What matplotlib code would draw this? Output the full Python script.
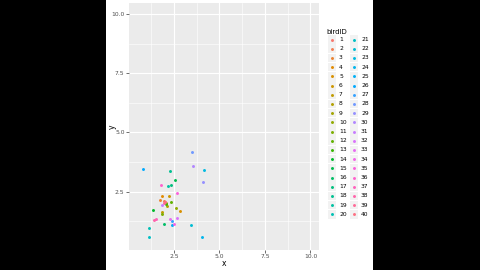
import numpy as np
import matplotlib
matplotlib.use('Agg')
import matplotlib.pyplot as plt
from matplotlib.patches import Rectangle

# %% data (one fix per bird)
bird_id = list(range(1, 41))
pos_x = [2.01, 1.98, 1.73, 1.83, 2.83, 2.24, 1.83, 2.10, 2.05, 2.63,
         1.86, 2.35, 2.04, 1.37, 2.54, 1.97, 2.33, 2.28, 2.20, 1.12,
         1.13, 3.45, 4.14, 4.05, 2.41, 0.82, 2.37, 3.48, 4.10, 3.56,
         1.86, 2.65, 2.28, 2.50, 2.65, 1.79, 1.52, 1.43, 1.97, 2.00]
pos_y = [2.05, 2.08, 2.16, 2.30, 1.68, 2.30, 1.63, 1.89, 2.00, 1.80,
         1.55, 2.05, 1.98, 1.73, 3.00, 1.11, 2.77, 3.36, 2.72, 0.95,
         0.57, 1.07, 3.42, 0.57, 1.09, 3.45, 1.24, 4.18, 2.91, 3.59,
         1.94, 1.40, 1.33, 1.12, 2.45, 2.78, 1.33, 1.28, 2.02, 2.05]
ticks = [2.5, 5.0, 7.5, 10.0]
tick_labels = ["2.5", "5.0", "7.5", "10.0"]
minor_ticks = [1.25, 3.75, 6.25, 8.75]


# %% ggplot hue palette: hcl(h, c=100, l=65)
def hcl_to_rgb(h, c=100.0, l=65.0):
    Xn, Yn, Zn = 95.047, 100.0, 108.883
    hr = np.radians(h)
    U, V = c*np.cos(hr), c*np.sin(hr)
    Y = Yn*((l + 16)/116)**3 if l > 8 else Yn*l/903.3
    den = Xn + 15*Yn + 3*Zn
    u0, v0 = 4*Xn/den, 9*Yn/den
    u = U/(13*l) + u0
    v = V/(13*l) + v0
    X = 9.0*Y*u/(4*v)
    Z = -X/3 - 5*Y + 3*Y/v
    M = np.array([[3.240479, -1.537150, -0.498535],
                  [-0.969256, 1.875992, 0.041556],
                  [0.055648, -0.204043, 1.057311]])
    lin = M @ np.array([X, Y, Z]) / 100.0
    rgb = np.where(lin > 0.00304, 1.055*np.abs(lin)**(1/2.4) - 0.055, 12.92*lin)
    return tuple(np.clip(rgb, 0, 1))


n = len(bird_id)
hues = np.linspace(15, 375, n + 1)[:n]
pal = {b: hcl_to_rgb(hh) for b, hh in zip(bird_id, hues)}

# %%
W, H = 480, 270
fig = plt.figure(figsize=(W/100, H/100), dpi=100, facecolor='black')
fig.patches.append(Rectangle((106/W, 0), (373-106)/W, 1, transform=fig.transFigure,
                             facecolor='white', edgecolor='none', zorder=-10))

L, R, T, B = 129, 319, 3, 250
ax = fig.add_axes([L/W, 1 - B/H, (R-L)/W, (B-T)/H])
ax.set_facecolor('#EBEBEB')
for s in ax.spines.values():
    s.set_visible(False)

for b, xx, yy in zip(bird_id, pos_x, pos_y):
    ax.scatter(xx, yy, s=4.5, color=pal[b], linewidths=0, zorder=3)

ax.set_xlim(0.03, 10.47)
ax.set_ylim(0.03, 10.47)
ax.set_xticks(ticks); ax.set_xticklabels(tick_labels)
ax.set_yticks(ticks); ax.set_yticklabels(tick_labels)
ax.set_xticks(minor_ticks, minor=True)
ax.set_yticks(minor_ticks, minor=True)
ax.grid(which='major', color='white', lw=0.8)
ax.grid(which='minor', color='white', lw=0.4)
ax.set_axisbelow(True)
ax.tick_params(which='major', length=2, width=0.5, color='#333333',
               labelsize=4.3, labelcolor='#4D4D4D', pad=1.2)
ax.tick_params(which='minor', length=0)
ax.set_xlabel("x", fontsize=5.5)
ax.set_ylabel("y", fontsize=5.5)
ax.xaxis.set_label_coords(0.5, -(264 - B)/(B - T), transform=ax.transAxes)
ax.yaxis.set_label_coords(-(L - 112)/(R - L), 0.5, transform=ax.transAxes)
ax.xaxis.label.set_va('center')
ax.yaxis.label.set_va('center')

# %% legend, drawn in pixel space
lg = fig.add_axes([0, 0, 1, 1], facecolor='none')
lg.set_xlim(0, W); lg.set_ylim(H, 0); lg.axis('off')
lg.text(326, 32, "birdID", fontsize=5, va='center', ha='left', color='black')
row0, dy, kh = 39.5, 9.2, 8.6
for i, b in enumerate(bird_id):
    col, row = divmod(i, 20)
    kx = 332 + col*22
    ky = row0 + row*dy
    lg.add_patch(Rectangle((kx - 4.3, ky - kh/2), 8.6, kh, facecolor='#F2F2F2',
                           edgecolor='none'))
    lg.scatter(kx, ky, s=4.5, color=pal[b], linewidths=0)
    lg.text(kx + 7, ky, str(b), fontsize=4.3, va='center', ha='left', color='black')

fig.savefig('out.png', dpi=100, facecolor=fig.get_facecolor())
